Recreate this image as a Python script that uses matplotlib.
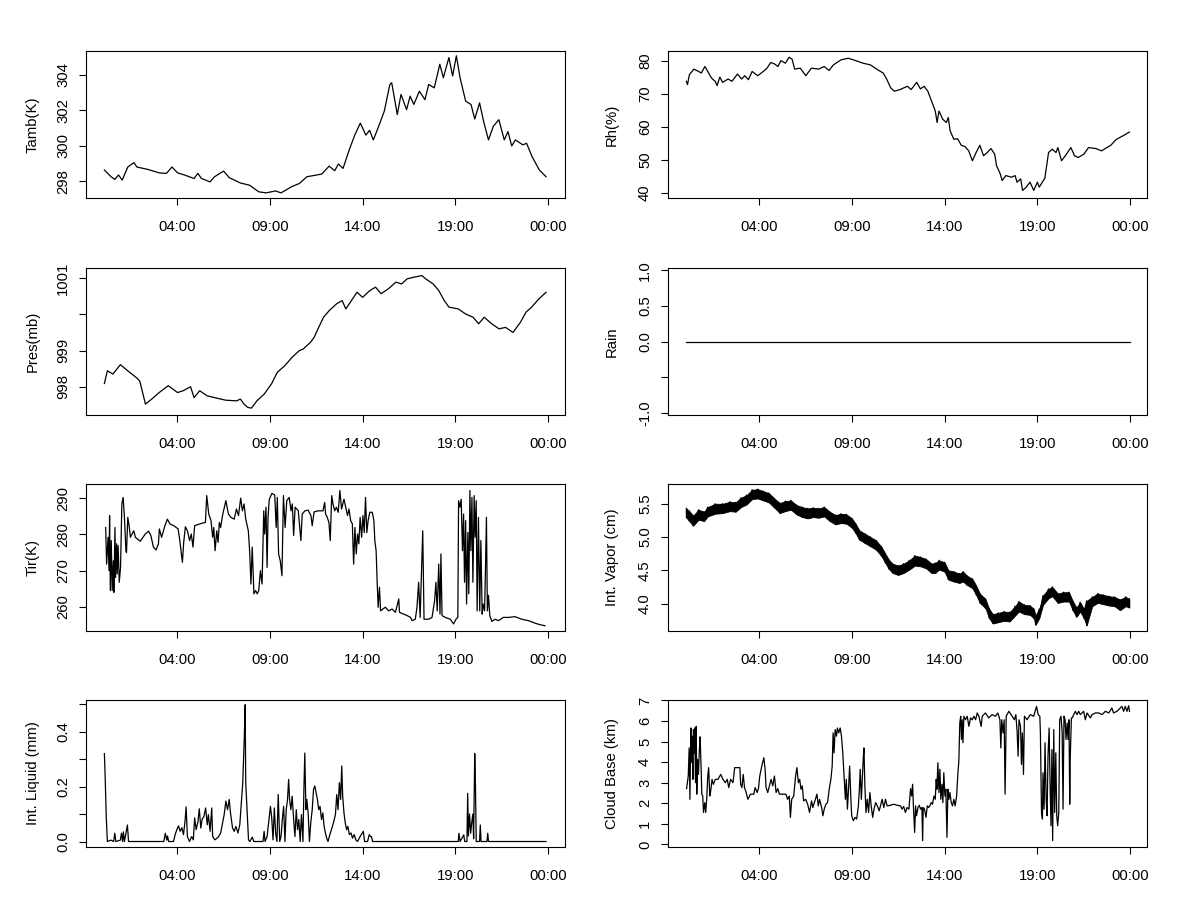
import numpy as np
import matplotlib
matplotlib.use('Agg')
import matplotlib.pyplot as plt

plt.rcParams['font.family'] = ['Liberation Sans', 'DejaVu Sans']
plt.rcParams['font.size'] = 10.7

# ---------------- data (hours of day) ----------------
hour_ticks = [4, 9, 14, 19, 24]
hour_labels = ['04:00', '09:00', '14:00', '19:00', '00:00']

tamb_t = [0.10, 0.46, 0.66, 0.86, 1.06, 1.36, 1.69, 1.85, 2.45, 3.05,
          3.44, 3.74, 4.04, 4.44, 4.93, 5.13, 5.33, 5.79, 6.03, 6.52,
          6.82, 7.42, 7.92, 8.41, 8.81, 9.31, 9.61, 10.2, 10.6, 11.0,
          11.8, 12.2, 12.5, 12.7, 12.95, 13.28, 13.58, 13.88, 14.18, 14.38,
          14.58, 14.87, 15.17, 15.47, 15.57, 15.87, 16.07, 16.37, 16.56, 16.76,
          17.06, 17.36, 17.56, 17.86, 18.16, 18.35, 18.65, 18.85, 19.05, 19.25,
          19.55, 19.84, 20.04, 20.3, 20.54, 20.78, 21.04, 21.34, 21.63, 21.83,
          22.03, 22.23, 22.63, 22.83, 23.13, 23.52, 23.88]
tamb_v = [298.63, 298.25, 298.1, 298.35, 298.06, 298.8, 299.05, 298.8, 298.66, 298.47,
          298.44, 298.8, 298.47, 298.34, 298.15, 298.44, 298.15, 297.96, 298.25, 298.57,
          298.2, 297.9, 297.77, 297.4, 297.34, 297.45, 297.34, 297.7, 297.87, 298.25,
          298.4, 298.85, 298.59, 298.97, 298.72, 299.76, 300.6, 301.28, 300.6, 300.87,
          300.33, 301.1, 301.95, 303.46, 303.56, 301.76, 302.9, 302.04, 302.8, 302.33,
          303.08, 302.6, 303.46, 303.27, 304.6, 303.84, 304.98, 303.94, 305.08, 303.84,
          302.52, 302.33, 301.51, 302.42, 301.28, 300.33, 301.1, 301.47, 300.33, 300.8,
          299.99, 300.33, 300.05, 300.14, 299.38, 298.63, 298.25]

rh_t = [0.10, 0.16, 0.26, 0.5, 0.76, 0.9, 1.1, 1.25, 1.45, 1.65,
        1.75, 1.9, 2.05, 2.35, 2.55, 2.85, 3.08, 3.24, 3.44, 3.64,
        3.94, 4.24, 4.44, 4.64, 4.84, 5.03, 5.19, 5.43, 5.63, 5.79,
        5.93, 6.23, 6.53, 6.83, 7.22, 7.52, 7.78, 8.02, 8.42, 8.82,
        9.21, 9.61, 10.0, 10.4, 10.7, 10.9, 11.1, 11.3, 11.6, 12.0,
        12.2, 12.5, 12.7, 12.9, 13.1, 13.3, 13.5, 13.6, 13.7, 13.9,
        14.1, 14.2, 14.3, 14.5, 14.7, 14.9, 15.1, 15.3, 15.5, 15.7,
        15.9, 16.1, 16.3, 16.5, 16.7, 16.8, 17.0, 17.1, 17.3, 17.6,
        17.8, 17.9, 18.1, 18.2, 18.4, 18.6, 18.8, 19.0, 19.1, 19.4,
        19.6, 19.8, 20.0, 20.1, 20.3, 20.5, 20.8, 21.0, 21.2, 21.5,
        21.75, 22.15, 22.45, 22.65, 22.95, 23.25, 23.65, 23.95]
rh_v = [73.8, 72.8, 75.8, 77.5, 76.8, 76.3, 78.3, 76.8, 74.8, 73.8,
        72.5, 75.1, 73.5, 74.5, 73.8, 76.0, 74.5, 75.5, 74.3, 76.8,
        75.5, 76.8, 77.8, 79.5, 79.1, 78.3, 80.1, 79.3, 81.1, 80.5,
        77.5, 77.8, 75.5, 77.8, 77.5, 78.3, 77.1, 78.8, 80.3, 80.8,
        80.1, 79.3, 78.8, 77.3, 76.3, 74.3, 71.8, 70.8, 71.3, 72.3,
        71.3, 73.5, 71.5, 72.3, 70.8, 67.8, 64.8, 61.3, 64.8, 62.3,
        61.3, 62.8, 58.8, 56.2, 56.4, 54.4, 54.0, 52.7, 49.7, 52.2,
        54.4, 51.2, 52.2, 53.4, 51.7, 48.2, 45.7, 43.7, 45.2, 44.7,
        45.2, 43.2, 44.2, 40.7, 41.7, 43.2, 40.7, 43.2, 41.7, 44.4,
        52.2, 53.2, 52.2, 53.7, 49.7, 51.2, 53.7, 51.2, 50.7, 51.7,
        53.7, 53.4, 52.7, 53.4, 54.4, 56.2, 57.4, 58.4]

pres_t = [0.10, 0.26, 0.56, 0.96, 1.36, 1.85, 2.01, 2.31, 2.65, 3.05,
          3.54, 4.04, 4.34, 4.74, 4.93, 5.23, 5.63, 6.03, 6.62, 7.22,
          7.42, 7.62, 7.82, 8.02, 8.31, 8.71, 9.11, 9.41, 9.81, 10.2,
          10.6, 10.8, 11.2, 11.4, 11.6, 11.9, 12.2, 12.6, 12.9, 13.1,
          13.4, 13.7, 14.0, 14.4, 14.7, 15.0, 15.4, 15.8, 16.1, 16.4,
          16.8, 17.2, 17.4, 17.8, 18.1, 18.4, 18.65, 19.15, 19.55, 19.95,
          20.25, 20.55, 20.95, 21.35, 21.7, 22.1, 22.5, 22.8, 23.1, 23.5, 23.88]
pres_v = [998.09, 998.44, 998.35, 998.61, 998.44, 998.24, 998.15, 997.52, 997.66, 997.84,
          998.03, 997.84, 997.89, 998.0, 997.70, 997.89, 997.75, 997.70, 997.63, 997.61,
          997.66, 997.52, 997.43, 997.41, 997.61, 997.80, 998.09, 998.40, 998.58, 998.81,
          999.0, 999.04, 999.23, 999.37, 999.6, 999.92, 1000.1, 1000.29, 1000.38, 1000.15,
          1000.38, 1000.61, 1000.47, 1000.66, 1000.75, 1000.57, 1000.71, 1000.89, 1000.84, 1000.98,
          1001.03, 1001.07, 1000.98, 1000.84, 1000.66, 1000.38, 1000.2, 1000.15, 1000.01, 999.92,
          999.74, 999.92, 999.74, 999.6, 999.64, 999.5, 999.78, 1000.06, 1000.2, 1000.43, 1000.61]

rain_t = [0.06, 23.98]
rain_v = [0.0, 0.0]

tir_t = [0.17, 0.22, 0.30, 0.35, 0.38, 0.42, 0.47, 0.52, 0.58, 0.61,
         0.67, 0.70, 0.76, 0.79, 0.84, 0.90, 0.97, 1.04, 1.11, 1.18,
         1.26, 1.29, 1.36, 1.43, 1.50, 1.68, 1.77, 2.03, 2.30, 2.48,
         2.60, 2.74, 2.88, 3.01, 3.06, 3.18, 3.36, 3.49, 3.63, 3.84,
         4.07, 4.16, 4.30, 4.37, 4.46, 4.57, 4.69, 4.78, 4.87, 4.96,
         5.13, 5.31, 5.54, 5.61, 5.72, 5.84, 5.93, 5.99, 6.06, 6.15,
         6.22, 6.29, 6.36, 6.46, 6.64, 6.78, 6.91, 7.09, 7.21, 7.32,
         7.44, 7.53, 7.62, 7.71, 7.85, 7.92, 7.99, 8.06, 8.15, 8.24,
         8.33, 8.41, 8.50, 8.59, 8.68, 8.73, 8.80, 8.86, 8.91, 8.98,
         9.12, 9.27, 9.35, 9.41, 9.48, 9.57, 9.66, 9.74, 9.83, 9.92,
         10.05, 10.15, 10.22, 10.29, 10.37, 10.54, 10.68, 10.75, 10.90, 11.07,
         11.22, 11.29, 11.39, 11.61, 11.87, 11.96,
         12.01, 12.10, 12.19, 12.26, 12.34, 12.41, 12.50, 12.59, 12.69, 12.78,
         12.87, 13.00, 13.09, 13.19, 13.27, 13.36, 13.45, 13.52, 13.59, 13.66,
         13.73, 13.80, 13.87, 13.95, 14.02, 14.09, 14.16, 14.23, 14.30, 14.39,
         14.52, 14.61, 14.66, 14.73, 14.79, 14.84, 14.91, 14.97, 15.09, 15.23,
         15.41, 15.59, 15.77, 15.95, 15.99, 16.22, 16.40, 16.58, 16.67, 16.84,
         16.93, 17.02, 17.10, 17.17, 17.24, 17.31, 17.56, 17.74, 17.88, 17.95,
         18.02, 18.10, 18.17, 18.22, 18.28, 18.45, 18.72, 18.90, 19.03, 19.13,
         19.17, 19.24, 19.31, 19.38, 19.44, 19.49, 19.55, 19.60, 19.67, 19.72,
         19.78, 19.83, 19.89, 19.94, 20.01, 20.06, 20.12, 20.17, 20.24, 20.31,
         20.37, 20.44, 20.49, 20.57, 20.62, 20.67, 20.72, 20.78, 20.85, 20.96,
         21.14, 21.32, 21.58, 21.85, 22.21, 22.57, 22.93, 23.29, 23.55, 23.82]
tir_v = [281.9, 271.8, 279.2, 270.0, 285.2, 264.5, 278.3, 264.5, 272.7, 264.0,
         281.9, 268.1, 277.4, 269.1, 276.9, 266.8, 270.9, 288.4, 290.2, 284.7,
         275.5, 275.0, 284.7, 282.4, 279.2, 281.0, 279.2, 278.1, 280.1, 280.9,
         279.7, 276.5, 275.7, 277.4, 281.5, 279.2, 282.4, 284.2, 282.9, 282.4,
         281.5, 278.3, 272.3, 277.8, 282.1, 281.0, 278.3, 280.1, 276.5, 282.4,
         282.7, 283.0, 283.3, 290.7, 285.6, 283.8, 279.2, 281.9, 275.5, 281.0,
         277.8, 283.3, 281.9, 285.2, 289.3, 285.6, 284.7, 284.2, 287.0, 285.2,
         290.0, 286.5, 288.4, 284.2, 281.0, 275.5, 266.3, 276.5, 263.6, 264.5,
         263.6, 264.5, 270.0, 266.3, 286.5, 280.1, 287.5, 270.9, 284.7, 289.7,
         291.3, 290.9, 281.9, 290.2, 274.6, 272.7, 268.6, 290.7, 281.9, 289.3,
         290.2, 286.5, 288.4, 279.7, 287.5, 286.5, 278.3, 285.6, 286.5, 286.7,
         285.2, 282.4, 286.2, 286.5, 286.5, 288.8,
         285.6, 284.7, 283.3, 278.3, 290.7, 288.4, 286.5, 287.5, 286.1, 292.1,
         287.0, 289.7, 287.5, 285.2, 287.0, 283.8, 282.9, 271.8, 281.9, 274.6,
         280.1, 277.4, 284.7, 279.2, 285.2, 280.5, 290.2, 280.5, 283.8, 286.1,
         286.1, 283.8, 278.3, 275.5, 266.3, 259.9, 265.4, 258.9, 259.4, 259.9,
         258.9, 259.4, 258.5, 262.2, 258.5, 258.0, 257.6, 257.1, 256.2, 256.6,
         259.9, 266.8, 257.1, 269.1, 281.0, 256.6, 256.6, 257.1, 261.7, 266.8,
         258.9, 271.8, 258.0, 274.6, 257.6, 257.1, 256.6, 255.3, 256.6, 257.1,
         289.3, 287.5, 289.7, 275.5, 285.6, 266.8, 283.8, 260.8, 280.5, 263.6,
         292.1, 275.5, 290.2, 266.8, 290.7, 279.2, 289.3, 258.9, 284.7, 258.9,
         278.3, 258.0, 260.8, 258.9, 270.9, 284.7, 258.9, 263.2, 257.6, 256.0,
         256.6, 256.2, 257.1, 257.1, 257.3, 256.6, 256.2, 255.5, 255.1, 254.8]

vapor_t = [0.10, 0.26, 0.46, 0.76, 1.05, 1.25, 1.65, 2.05, 2.45, 2.75,
           3.04, 3.34, 3.64, 3.94, 4.24, 4.54, 4.84, 5.13, 5.43, 5.73,
           6.03, 6.33, 6.63, 6.93, 7.22, 7.52, 7.82, 8.12, 8.42, 8.72,
           9.01, 9.21, 9.41, 9.71, 10.01, 10.31, 10.61, 10.81, 11.0, 11.2,
           11.5, 11.8, 12.1, 12.4, 12.7, 13.0, 13.3, 13.5, 13.7, 14.0,
           14.2, 14.5, 14.8, 15.0, 15.2, 15.5, 15.7, 15.9, 16.2, 16.4,
           16.6, 16.9, 17.2, 17.5, 17.8, 18.0, 18.3, 18.6, 18.8, 18.9,
           19.1, 19.3, 19.6, 19.8, 20.1, 20.4, 20.7, 20.9, 21.1, 21.3,
           21.5, 21.65, 21.95, 22.25, 22.55, 22.85, 23.15, 23.45, 23.75, 23.95]
vapor_hi = [5.43, 5.39, 5.32, 5.41, 5.38, 5.45, 5.50, 5.50, 5.53, 5.52,
            5.59, 5.63, 5.71, 5.72, 5.69, 5.66, 5.58, 5.51, 5.54, 5.55,
            5.48, 5.45, 5.43, 5.44, 5.43, 5.45, 5.38, 5.33, 5.35, 5.34,
            5.28, 5.20, 5.10, 5.05, 5.00, 4.95, 4.85, 4.75, 4.66, 4.60,
            4.57, 4.60, 4.65, 4.72, 4.70, 4.67, 4.60, 4.61, 4.65, 4.62,
            4.50, 4.48, 4.45, 4.48, 4.42, 4.37, 4.27, 4.15, 4.07, 3.92,
            3.84, 3.86, 3.88, 3.87, 3.96, 4.03, 3.98, 3.97, 3.92, 3.82,
            3.92, 4.12, 4.22, 4.25, 4.15, 4.17, 4.17, 4.04, 3.94, 4.02,
            3.92, 4.04, 4.10, 4.15, 4.13, 4.11, 4.10, 4.06, 4.10, 4.07]
vapor_lo = [5.29, 5.24, 5.17, 5.26, 5.24, 5.31, 5.35, 5.36, 5.39, 5.38,
            5.45, 5.49, 5.57, 5.58, 5.55, 5.52, 5.44, 5.36, 5.39, 5.41,
            5.34, 5.30, 5.28, 5.30, 5.29, 5.31, 5.24, 5.19, 5.21, 5.20,
            5.14, 5.06, 4.96, 4.91, 4.86, 4.81, 4.71, 4.61, 4.52, 4.46,
            4.43, 4.46, 4.51, 4.57, 4.56, 4.53, 4.46, 4.46, 4.51, 4.48,
            4.36, 4.33, 4.31, 4.33, 4.28, 4.23, 4.13, 4.01, 3.93, 3.78,
            3.70, 3.72, 3.74, 3.73, 3.82, 3.88, 3.84, 3.83, 3.78, 3.68,
            3.78, 3.98, 4.08, 4.11, 4.01, 4.03, 4.03, 3.90, 3.80, 3.88,
            3.78, 3.67, 3.96, 4.01, 3.99, 3.97, 3.96, 3.90, 3.96, 3.94]

liq_t = [0.10, 0.14, 0.20, 0.26, 0.46, 0.60, 0.66, 0.72, 0.96, 1.02,
         1.08, 1.12, 1.18, 1.34, 1.40, 3.30, 3.38, 3.46, 3.50, 3.56,
         3.82, 3.91, 4.00, 4.09, 4.18, 4.27, 4.36, 4.45, 4.50, 4.57,
         4.68, 4.80, 4.89, 4.96, 5.04, 5.14, 5.21, 5.29, 5.36, 5.46,
         5.55, 5.64, 5.70, 5.79, 5.88, 5.93, 6.05, 6.23, 6.36, 6.46,
         6.55, 6.64, 6.73, 6.82, 6.89, 7.00, 7.09, 7.18, 7.29, 7.39,
         7.46, 7.55, 7.63, 7.68, 7.71, 7.77, 7.82, 7.86, 7.93, 8.07,
         8.14, 8.64, 8.70, 8.75, 8.86, 8.96, 9.04, 9.11, 9.18, 9.25,
         9.32, 9.39, 9.46, 9.54, 9.61, 9.68, 9.75, 9.82, 9.89, 9.96,
         10.02, 10.07, 10.14, 10.21, 10.29, 10.36, 10.43, 10.50, 10.57, 10.64,
         10.71, 10.79, 10.84, 10.89, 10.95, 11.00, 11.07, 11.14, 11.21, 11.29,
         11.36, 11.43, 11.50, 11.57, 11.64, 11.71, 11.79, 11.86, 11.93, 12.00,
         12.07, 12.14, 12.21, 12.32, 12.43, 12.54, 12.61, 12.68, 12.75, 12.82,
         12.88, 12.93, 13.00, 13.07, 13.14, 13.21, 13.29, 13.38, 13.46, 13.55,
         13.64, 13.73, 13.82, 13.93, 14.04, 14.11, 14.27, 14.36, 14.43, 14.48,
         14.54, 19.15, 19.19, 19.25, 19.45, 19.50, 19.62, 19.66, 19.70, 19.76,
         19.82, 19.88, 19.94, 19.98, 20.04, 20.08, 20.12, 20.30, 20.34, 20.38,
         20.70, 20.74, 20.78, 23.88]
liq_v = [0.32, 0.24, 0.09, 0.0, 0.005, 0.0, 0.03, 0.0, 0.005, 0.03,
         0.0, 0.035, 0.0, 0.06, 0.0, 0.0, 0.03, 0.005, 0.02, 0.0,
         0.0, 0.025, 0.043, 0.057, 0.037, 0.05, 0.025, 0.08, 0.126, 0.018,
         0.0, 0.018, 0.006, 0.086, 0.043, 0.073, 0.119, 0.049, 0.08, 0.092,
         0.122, 0.061, 0.098, 0.037, 0.122, 0.018, 0.006, 0.016, 0.031, 0.067,
         0.098, 0.147, 0.116, 0.153, 0.104, 0.049, 0.037, 0.055, 0.031, 0.061,
         0.128, 0.214, 0.373, 0.498, 0.214, 0.128, 0.055, 0.006, 0.0, 0.016,
         0.0, 0.0, 0.037, 0.0, 0.018, 0.08, 0.128, 0.086, 0.006, 0.122,
         0.031, 0.0, 0.171, 0.0, 0.018, 0.08, 0.128, 0.0, 0.116, 0.153,
         0.226, 0.153, 0.116, 0.165, 0.08, 0.018, 0.116, 0.043, 0.08, 0.0,
         0.098, 0.0, 0.184, 0.322, 0.116, 0.153, 0.104, 0.0, 0.067, 0.116,
         0.19, 0.202, 0.177, 0.153, 0.116, 0.128, 0.08, 0.104, 0.055, 0.031,
         0.012, 0.0, 0.018, 0.043, 0.067, 0.098, 0.171, 0.116, 0.214, 0.153,
         0.275, 0.165, 0.104, 0.067, 0.043, 0.055, 0.025, 0.031, 0.012, 0.025,
         0.006, 0.0, 0.012, 0.025, 0.037, 0.0, 0.0, 0.025, 0.018, 0.018,
         0.0, 0.0, 0.03, 0.0, 0.024, 0.0, 0.0, 0.175, 0.02, 0.1,
         0.03, 0.07, 0.1, 0.01, 0.32, 0.2, 0.0, 0.0, 0.06, 0.0,
         0.0, 0.03, 0.0, 0.0]

cloud_t = [0.11, 0.2, 0.25, 0.29, 0.34, 0.38, 0.41, 0.45, 0.48, 0.52,
           0.55, 0.59, 0.63, 0.66, 0.7, 0.75, 0.8, 0.84, 0.89, 0.93,
           0.98, 1.02, 1.09, 1.14, 1.2, 1.25, 1.3, 1.36, 1.41, 1.48,
           1.55, 1.66, 1.8, 1.95, 2.07, 2.2, 2.3, 2.38, 2.48, 2.61,
           2.7, 2.88, 2.98, 3.02, 3.09, 3.16, 3.23, 3.32, 3.41, 3.55,
           3.73, 3.8, 3.91, 3.98, 4.05, 4.16, 4.27, 4.34, 4.39, 4.48,
           4.57, 4.66, 4.75, 4.84, 4.93, 5.02, 5.11, 5.29, 5.46, 5.55,
           5.64, 5.7, 5.77, 5.88, 5.98, 6.05, 6.13, 6.2, 6.27, 6.34,
           6.41, 6.52, 6.63, 6.73, 6.84, 6.91, 7.02, 7.13, 7.2, 7.27,
           7.38, 7.45, 7.52, 7.61, 7.7, 7.79, 7.88, 7.95, 8.0, 8.05,
           8.11, 8.18, 8.23, 8.3, 8.38, 8.45, 8.52, 8.59, 8.66, 8.71,
           8.77, 8.82, 8.89, 8.95, 9.0, 9.09, 9.18, 9.27, 9.36, 9.41,
           9.46, 9.52, 9.57, 9.63, 9.66, 9.71, 9.77, 9.84, 9.91, 9.98,
           10.05, 10.13, 10.2, 10.29, 10.38, 10.48, 10.55, 10.64, 10.73, 10.82,
           10.91, 11.09, 11.27, 11.45, 11.63, 11.71, 11.8, 11.89, 11.98,
           12.08, 12.17, 12.23, 12.28, 12.33, 12.39, 12.44, 12.49, 12.57, 12.64,
           12.71, 12.78, 12.82, 12.85, 12.92, 13.0, 13.07, 13.14, 13.21, 13.28,
           13.35, 13.43, 13.5, 13.55, 13.59, 13.64, 13.7, 13.75, 13.8, 13.86,
           13.91, 13.96, 14.02, 14.07, 14.13, 14.18, 14.23, 14.29, 14.36, 14.43,
           14.5, 14.57, 14.65, 14.72, 14.77, 14.82, 14.87, 14.91, 14.95, 14.99,
           15.04, 15.13, 15.22, 15.31, 15.4, 15.49, 15.58, 15.67, 15.76, 15.85,
           15.97, 16.03, 16.2, 16.38, 16.56, 16.74, 16.87, 16.98, 17.03, 17.08,
           17.15, 17.21, 17.26, 17.32, 17.46, 17.64, 17.76, 17.84, 17.91, 17.96,
           18.01, 18.09, 18.14, 18.19, 18.25, 18.3, 18.44, 18.62, 18.8, 18.95,
           19.04, 19.13, 19.16, 19.22, 19.27, 19.3, 19.36, 19.41, 19.47, 19.52,
           19.57, 19.63, 19.68, 19.73, 19.78, 19.82, 19.88, 19.93, 19.99, 20.04,
           20.09, 20.15, 20.2, 20.27, 20.33, 20.38, 20.43, 20.49, 20.54, 20.6,
           20.65, 20.7, 20.74, 20.77, 20.83, 20.88, 20.95, 21.04, 21.13, 21.22,
           21.31, 21.49, 21.58, 21.67, 21.85, 21.94, 22.12, 22.3, 22.48, 22.66,
           22.84, 23.01, 23.1, 23.28, 23.55, 23.64, 23.73, 23.82, 23.91, 23.96]
cloud_v = [2.71, 3.32, 4.69, 2.19, 5.66, 3.97, 5.26, 3.16, 5.58, 4.45,
           5.66, 3.0, 5.74, 2.44, 4.13, 3.4, 4.61, 5.23, 3.81, 2.44,
           2.35, 1.55, 2.03, 1.55, 2.27, 3.32, 3.73, 2.35, 2.6, 3.16,
           2.92, 3.16, 3.16, 3.4, 3.16, 3.0, 3.16, 2.76, 3.16, 3.0,
           3.73, 3.73, 3.73, 2.92, 2.76, 3.4, 2.76, 2.52, 2.19, 2.44,
           2.44, 2.76, 2.52, 2.71, 3.32, 3.81, 4.21, 3.65, 2.76, 2.52,
           2.84, 3.16, 2.84, 3.32, 2.52, 2.71, 2.44, 2.44, 2.44, 2.19,
           2.35, 1.31, 2.19, 2.35, 3.32, 3.73, 3.0, 3.16, 2.68, 2.84,
           2.11, 2.19, 1.95, 1.55, 2.11, 1.79, 2.11, 2.44, 1.87, 2.19,
           1.79, 1.39, 1.71, 1.95, 2.03, 2.68, 3.16, 3.81, 5.42, 4.45,
           5.58, 5.26, 5.66, 5.42, 5.66, 5.26, 4.45, 3.32, 2.19, 3.16,
           1.71, 2.52, 3.81, 2.35, 1.39, 1.15, 1.31, 1.23, 1.87, 2.6,
           3.65, 2.19, 3.16, 4.29, 4.69, 2.84, 1.55, 2.19, 1.55, 2.52,
           1.87, 1.31, 1.71, 2.03, 1.87, 1.63, 1.87, 2.19, 1.79, 2.19,
           1.87, 1.9, 1.95, 1.9, 1.87, 1.71, 1.84, 1.55, 1.79,
           1.71, 2.71, 2.35, 2.92, 1.71, 0.58, 1.87, 1.39, 1.79, 1.9,
           1.71, 1.79, 0.18, 1.79, 1.71, 1.31, 1.87, 1.79, 1.87, 2.03,
           1.95, 2.35, 2.19, 3.16, 2.68, 3.97, 2.52, 3.65, 2.19, 2.92,
           2.03, 3.48, 2.35, 2.68, 0.34, 2.68, 2.19, 2.52, 2.03, 1.87,
           2.19, 1.87, 2.35, 3.48, 4.05, 5.9, 6.23, 5.1, 6.06, 4.94,
           6.23, 6.06, 6.23, 5.74, 6.15, 6.06, 6.23, 6.06, 6.39, 6.23,
           5.74, 6.23, 6.39, 6.15, 6.31, 6.23, 6.39, 6.06, 4.69, 6.06,
           5.42, 6.06, 2.44, 6.23, 6.47, 6.23, 6.06, 6.31, 5.42, 4.29,
           6.06, 5.74, 3.89, 5.42, 3.4, 6.23, 6.06, 6.31, 6.23, 6.71,
           6.31, 6.23, 5.42, 1.55, 1.23, 3.48, 1.71, 4.94, 2.19, 1.39,
           4.29, 5.66, 3.0, 0.9, 4.61, 0.18, 5.58, 1.55, 4.45, 1.39,
           0.9, 1.55, 6.06, 6.23, 5.5, 1.71, 6.23, 6.06, 5.1, 5.9,
           5.1, 6.06, 1.95, 4.29, 6.15, 6.15, 6.31, 6.47, 6.31, 6.47,
           6.31, 6.47, 6.06, 6.39, 6.15, 6.31, 6.39, 6.39, 6.31, 6.47,
           6.39, 6.63, 6.39, 6.47, 6.71, 6.47, 6.71, 6.47, 6.74, 6.47]

# ---------------- layout ----------------
W, H = 1200, 900
fig = plt.figure(figsize=(12, 9), dpi=100)
col_left = [86, 668]
row_top = [51, 268, 484, 700]
box_w, box_h = 479, 147
XLIM = (-0.89, 24.9)


def pair(t, v):
    n = min(len(t), len(v))
    return np.asarray(t[:n], float), np.asarray(v[:n], float)


def panel(col, row, ylabel, ylim, yticks, ylabels):
    l = col_left[col] / W
    b = 1 - (row_top[row] + box_h) / H
    ax = fig.add_axes([l, b, box_w / W, box_h / H])
    ax.set_xlim(*XLIM)
    ax.set_xticks(hour_ticks)
    ax.set_xticklabels(hour_labels)
    ax.set_ylim(*ylim)
    ax.set_yticks(yticks)
    ax.set_yticklabels(ylabels, rotation=90, va='center')
    ax.tick_params(direction='out', length=5, width=0.8, colors='black')
    ax.tick_params(axis='x', pad=10.5)
    ax.tick_params(axis='y', pad=6.5)
    for s in ax.spines.values():
        s.set_linewidth(0.8)
        s.set_color('black')
    ax.set_ylabel(ylabel)
    ax.yaxis.set_label_coords(-0.096 if col == 0 else -0.102, 0.5)
    return ax


LW = 0.9

ax = panel(0, 0, 'Tamb(K)', (297.05, 305.35), [298, 300, 302, 304],
           ['298', '300', '302', '304'])
ax.plot(*pair(tamb_t, tamb_v), color='black', lw=LW)

ax = panel(1, 0, 'Rh(%)', (38.4, 83.0), [40, 50, 60, 70, 80],
           ['40', '50', '60', '70', '80'])
ax.plot(*pair(rh_t, rh_v), color='black', lw=LW)

ax = panel(0, 1, 'Pres(mb)', (997.22, 1001.28), [998, 999, 1000, 1001],
           ['998', '999', '', '1001'])
ax.plot(*pair(pres_t, pres_v), color='black', lw=LW)

ax = panel(1, 1, 'Rain', (-1.03, 1.03), [-1.0, -0.5, 0.0, 0.5, 1.0],
           ['-1.0', '', '0.0', '0.5', '1.0'])
ax.plot(*pair(rain_t, rain_v), color='black', lw=LW)

ax = panel(0, 2, 'Tir(K)', (253.35, 293.9), [260, 270, 280, 290],
           ['260', '270', '280', '290'])
ax.plot(*pair(tir_t, tir_v), color='black', lw=LW)

ax = panel(1, 2, 'Int. Vapor (cm)', (3.587, 5.797), [4.0, 4.5, 5.0, 5.5],
           ['4.0', '4.5', '5.0', '5.5'])
vt, vh = pair(vapor_t, vapor_hi)
_, vl = pair(vapor_t, vapor_lo)
ax.fill_between(vt, vl, vh, color='black', lw=0.6)
zig_t = np.repeat(vt, 2)
zig_v = np.column_stack([vh, vl]).ravel()
ax.plot(zig_t, zig_v, color='black', lw=LW)

ax = panel(0, 3, 'Int. Liquid (mm)', (-0.02, 0.515), [0.0, 0.1, 0.2, 0.3, 0.4, 0.5],
           ['0.0', '', '0.2', '', '0.4', ''])
ax.plot(*pair(liq_t, liq_v), color='black', lw=LW)

ax = panel(1, 3, 'Cloud Base (km)', (-0.13, 7.02), list(range(8)),
           [str(i) for i in range(8)])
ax.plot(*pair(cloud_t, cloud_v), color='black', lw=LW)

fig.savefig('out.png', dpi=100, facecolor='white')
